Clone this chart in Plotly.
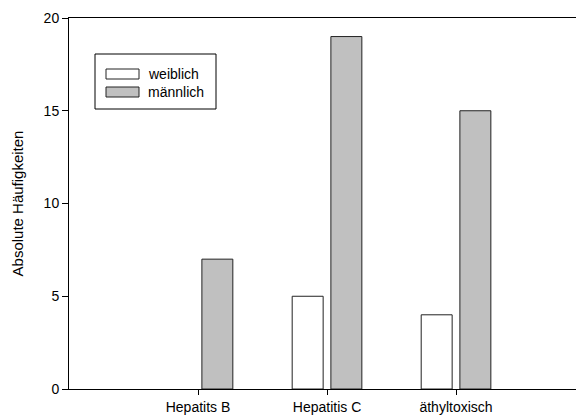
import plotly.graph_objects as go

# Diagnosegruppen und Fallzahlen je Geschlecht
categories = ["Hepatits B", "Hepatitis C", "äthyltoxisch"]
weiblich = [0, 5, 4]
maennlich = [7, 19, 15]
series_names = ["weiblich", "männlich"]
y_ticks = [0, 5, 10, 15, 20]

FONT = "Liberation Sans, Arial, sans-serif"
x_pos = list(range(len(categories)))


def edge_widths(values):
    # keine Kontur für Balken der Höhe null
    return [0 if v == 0 else 1 for v in values]


fig = go.Figure()
fig.add_trace(go.Bar(
    x=x_pos, y=weiblich, name=series_names[0],
    width=0.24, offset=-0.27,
    marker=dict(color="white",
                line=dict(color="#222222", width=edge_widths(weiblich))),
    showlegend=False,
))
fig.add_trace(go.Bar(
    x=x_pos, y=maennlich, name=series_names[1],
    width=0.24, offset=0.03,
    marker=dict(color="#c0c0c0",
                line=dict(color="#222222", width=edge_widths(maennlich))),
    showlegend=False,
))

# Legende als Rahmen mit Farbfeldern
shapes = [
    dict(type="rect", xref="paper", yref="paper",
         x0=(95 - 69) / 507, x1=(216 - 69) / 507,
         y0=(389 - 109) / 371, y1=(389 - 54) / 371,
         line=dict(color="black", width=1), fillcolor="white", layer="above"),
]
annotations = []
fills = ["white", "#c0c0c0"]
for i, (nm, fc) in enumerate(zip(series_names, fills)):
    yc = 74 + i * 18
    shapes.append(dict(type="rect", xref="paper", yref="paper",
                       x0=(106 - 69) / 507, x1=(139 - 69) / 507,
                       y0=(389 - (yc + 5)) / 371, y1=(389 - (yc - 5)) / 371,
                       line=dict(color="#222222", width=1), fillcolor=fc,
                       layer="above"))
    annotations.append(dict(xref="paper", yref="paper",
                            x=(146 - 69) / 507, y=(389 - yc) / 371,
                            xanchor="left", yanchor="middle", showarrow=False,
                            text=nm, font=dict(family=FONT, size=14, color="black")))

fig.update_layout(
    width=576, height=416,
    margin=dict(l=69, r=0, t=18, b=27),
    paper_bgcolor="white", plot_bgcolor="white",
    font=dict(family=FONT, size=14, color="black"),
    shapes=shapes, annotations=annotations,
    xaxis=dict(
        range=[-1, 2.93],
        tickmode="array", tickvals=x_pos, ticktext=categories,
        ticks="outside", ticklen=5, tickcolor="black", tickwidth=1,
        showline=True, linecolor="black", linewidth=1, mirror=True,
        showgrid=False, zeroline=False, fixedrange=True,
        tickfont=dict(family=FONT, size=14),
    ),
    yaxis=dict(
        range=[0, 20],
        tickmode="array", tickvals=y_ticks,
        ticks="outside", ticklen=6, tickcolor="black", tickwidth=1,
        showline=True, linecolor="black", linewidth=1,
        showgrid=False, zeroline=False, fixedrange=True,
        tickfont=dict(family=FONT, size=14),
        title=dict(text="Absolute Häufigkeiten", standoff=16,
                   font=dict(family=FONT, size=15)),
    ),
)

fig.write_html("out.html", config={"displayModeBar": False})
